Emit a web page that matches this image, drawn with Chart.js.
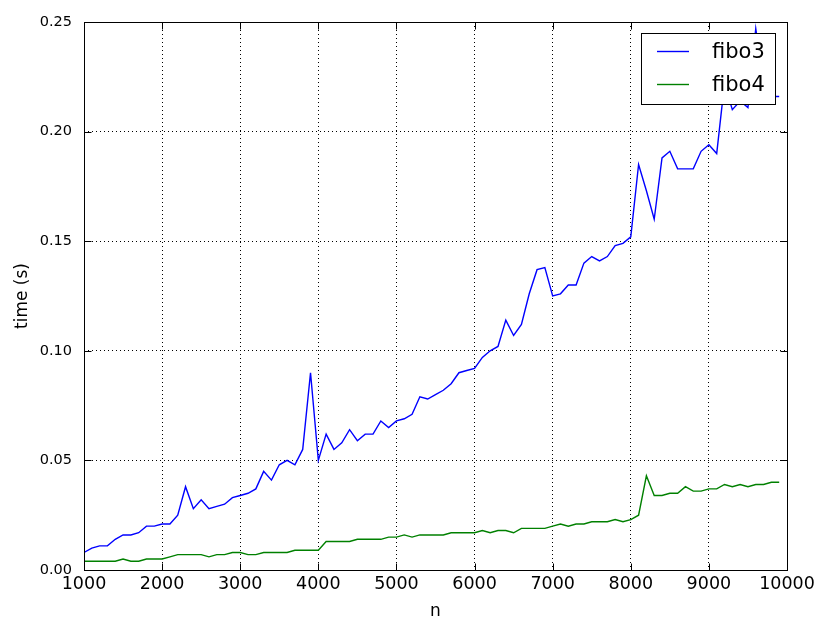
<!DOCTYPE html>
<html>
<head>
<meta charset="utf-8">
<script src="https://cdn.jsdelivr.net/npm/chart.js@4"></script>
<style>
  html, body { margin: 0; padding: 0; background: #fff; }
  #wrap { width: 820px; height: 617px; }
</style>
</head>
<body>
<div id="wrap"><canvas id="chart" width="820" height="617"></canvas></div>
<script>
// n values (problem size)
const nValues = [
  1000, 1100, 1200, 1300, 1400, 1500, 1600, 1700, 1800, 1900,
  2000, 2100, 2200, 2300, 2400, 2500, 2600, 2700, 2800, 2900,
  3000, 3100, 3200, 3300, 3400, 3500, 3600, 3700, 3800, 3900,
  4000, 4100, 4200, 4300, 4400, 4500, 4600, 4700, 4800, 4900,
  5000, 5100, 5200, 5300, 5400, 5500, 5600, 5700, 5800, 5900,
  6000, 6100, 6200, 6300, 6400, 6500, 6600, 6700, 6800, 6900,
  7000, 7100, 7200, 7300, 7400, 7500, 7600, 7700, 7800, 7900,
  8000, 8100, 8200, 8300, 8400, 8500, 8600, 8700, 8800, 8900,
  9000, 9100, 9200, 9300, 9400, 9500, 9600, 9700, 9800, 9900
];

// timings (s)
const fibo3 = [
  0.008, 0.010, 0.011, 0.011, 0.014, 0.016, 0.016, 0.017, 0.020, 0.020,
  0.021, 0.021, 0.025, 0.038, 0.028, 0.032, 0.028, 0.029, 0.030, 0.033,
  0.034, 0.035, 0.037, 0.045, 0.041, 0.048, 0.050, 0.048, 0.055, 0.090,
  0.050, 0.062, 0.055, 0.058, 0.064, 0.059, 0.062, 0.062, 0.068, 0.065,
  0.068, 0.069, 0.071, 0.079, 0.078, 0.080, 0.082, 0.085, 0.090, 0.091,
  0.092, 0.097, 0.100, 0.102, 0.114, 0.107, 0.112, 0.126, 0.137, 0.138,
  0.125, 0.126, 0.130, 0.130, 0.140, 0.143, 0.141, 0.143, 0.148, 0.149,
  0.152, 0.185, 0.173, 0.160, 0.188, 0.191, 0.183, 0.183, 0.183, 0.191,
  0.194, 0.190, 0.222, 0.210, 0.214, 0.211, 0.247, 0.222, 0.216, 0.216
];

const fibo4 = [
  0.004, 0.004, 0.004, 0.004, 0.004, 0.005, 0.004, 0.004, 0.005, 0.005,
  0.005, 0.006, 0.007, 0.007, 0.007, 0.007, 0.006, 0.007, 0.007, 0.008,
  0.008, 0.007, 0.007, 0.008, 0.008, 0.008, 0.008, 0.009, 0.009, 0.009,
  0.009, 0.013, 0.013, 0.013, 0.013, 0.014, 0.014, 0.014, 0.014, 0.015,
  0.015, 0.016, 0.015, 0.016, 0.016, 0.016, 0.016, 0.017, 0.017, 0.017,
  0.017, 0.018, 0.017, 0.018, 0.018, 0.017, 0.019, 0.019, 0.019, 0.019,
  0.020, 0.021, 0.020, 0.021, 0.021, 0.022, 0.022, 0.022, 0.023, 0.022,
  0.023, 0.025, 0.043, 0.034, 0.034, 0.035, 0.035, 0.038, 0.036, 0.036,
  0.037, 0.037, 0.039, 0.038, 0.039, 0.038, 0.039, 0.039, 0.040, 0.040
];

const xTicks = [1000, 2000, 3000, 4000, 5000, 6000, 7000, 8000, 9000, 10000];
const yTicks = [0, 0.05, 0.10, 0.15, 0.20, 0.25];

const FONT = "'DejaVu Sans', sans-serif";
const TICK_LEN = 7;

const toPoints = (ys) => nValues.map((n, i) => ({ x: n, y: ys[i] }));

// matplotlib-like frame, inward ticks on all sides, and legend box
const framePlugin = {
  id: 'mplFrame',
  afterDatasetsDraw(chart) {
    const { ctx, chartArea: a, scales } = chart;
    ctx.save();
    ctx.strokeStyle = '#000';
    ctx.lineWidth = 1;
    ctx.setLineDash([]);
    const L = Math.round(a.left) + 0.5, R = Math.round(a.right) + 0.5;
    const T = Math.round(a.top) + 0.5, B = Math.round(a.bottom) + 0.5;
    ctx.strokeRect(L, T, R - L, B - T);

    ctx.beginPath();
    xTicks.forEach(v => {
      const px = Math.round(scales.x.getPixelForValue(v)) + 0.5;
      ctx.moveTo(px, B); ctx.lineTo(px, B - TICK_LEN);
      ctx.moveTo(px, T); ctx.lineTo(px, T + TICK_LEN);
    });
    yTicks.forEach(v => {
      const py = Math.round(scales.y.getPixelForValue(v)) + 0.5;
      ctx.moveTo(L, py); ctx.lineTo(L + TICK_LEN, py);
      ctx.moveTo(R, py); ctx.lineTo(R - TICK_LEN, py);
    });
    ctx.stroke();

    // legend
    const bx = 641.5, by = 33.5, bw = 134, bh = 71;
    ctx.fillStyle = '#fff';
    ctx.fillRect(bx, by, bw, bh);
    ctx.strokeRect(bx, by, bw, bh);
    ctx.font = '21px ' + FONT;
    ctx.textBaseline = 'middle';
    ctx.textAlign = 'left';
    chart.data.datasets.forEach((ds, i) => {
      const y = [51.5, 84.5][i];
      ctx.strokeStyle = ds.borderColor;
      ctx.lineWidth = 1.4;
      ctx.beginPath();
      ctx.moveTo(657, y); ctx.lineTo(689, y);
      ctx.stroke();
      ctx.fillStyle = '#000';
      ctx.fillText(ds.label, 712, y + 1);
    });
    ctx.restore();
  }
};

new Chart(document.getElementById('chart'), {
  type: 'line',
  data: {
    datasets: [
      { label: 'fibo3', data: toPoints(fibo3), borderColor: '#0000ff', borderWidth: 1.4, pointRadius: 0, tension: 0, fill: false },
      { label: 'fibo4', data: toPoints(fibo4), borderColor: '#008000', borderWidth: 1.4, pointRadius: 0, tension: 0, fill: false }
    ]
  },
  options: {
    responsive: false,
    animation: false,
    events: [],
    layout: { padding: { top: 22, right: 33, left: 0, bottom: 0 } },
    plugins: { legend: { display: false }, tooltip: { enabled: false } },
    scales: {
      x: {
        type: 'linear',
        min: 1000, max: 10000,
        afterBuildTicks: (s) => { s.ticks = xTicks.map(v => ({ value: v })); },
        afterFit: (s) => { s.height = 47; s.paddingLeft = 0; s.paddingRight = 0; },
        ticks: {
          color: '#000', font: { family: FONT, size: 17.5 }, padding: 4,
          maxRotation: 0, autoSkip: false,
          callback: (v) => String(v)
        },
        grid: { color: '#000', lineWidth: 1, drawTicks: false },
        border: { display: false, dash: [1, 3] },
        title: { display: true, text: 'n', color: '#000', font: { family: FONT, size: 17 }, padding: { top: 0, bottom: -5 } }
      },
      y: {
        type: 'linear',
        min: 0, max: 0.25,
        afterBuildTicks: (s) => { s.ticks = yTicks.map(v => ({ value: v })); },
        afterFit: (s) => { s.width = 84; s.paddingTop = 0; s.paddingBottom = 0; },
        ticks: {
          color: '#000', font: { family: FONT, size: 14.5 }, padding: 12,
          autoSkip: false,
          callback: (v) => v.toFixed(2)
        },
        grid: { color: '#000', lineWidth: 1, drawTicks: false },
        border: { display: false, dash: [1, 3] },
        title: { display: true, text: 'time (s)', color: '#000', font: { family: FONT, size: 17 }, padding: { top: 12, bottom: 0 } }
      }
    }
  },
  plugins: [framePlugin]
});
</script>
</body>
</html>
